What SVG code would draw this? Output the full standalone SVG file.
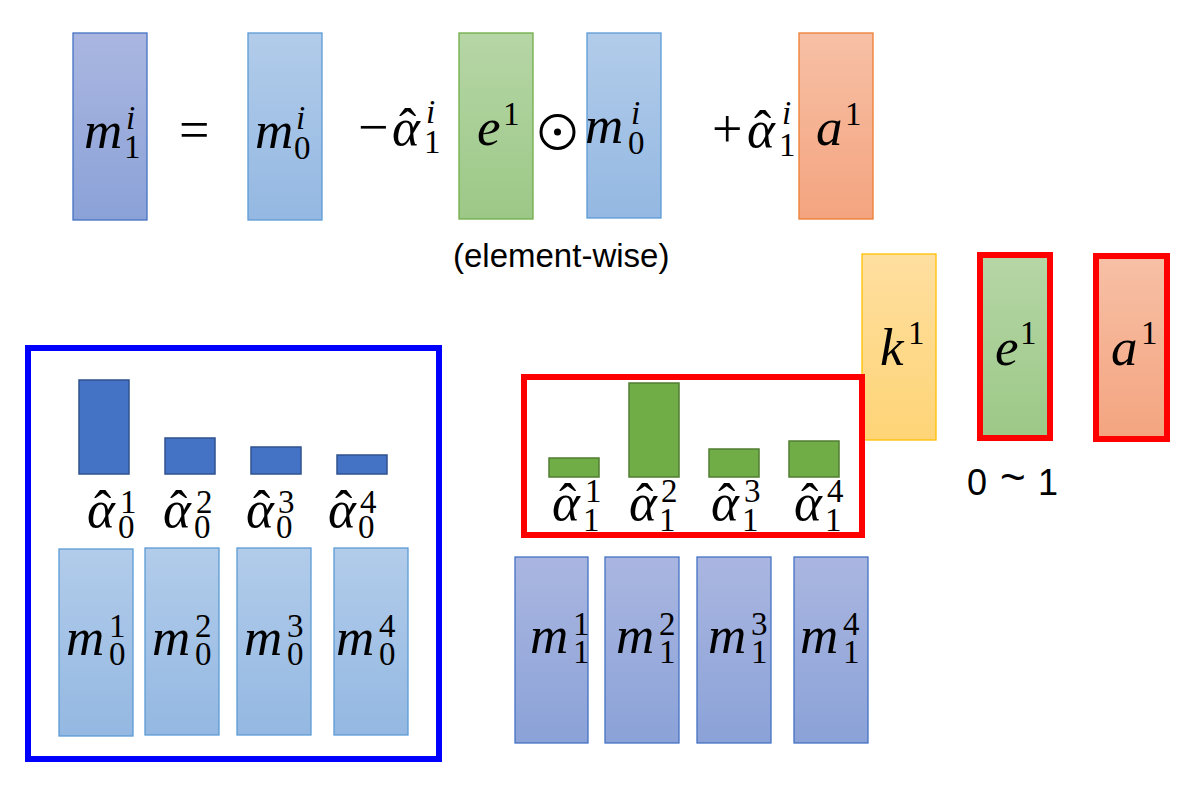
<svg xmlns="http://www.w3.org/2000/svg" width="1187" height="788" viewBox="0 0 1187 788">
<defs>
<linearGradient id="gPurple" x1="0" y1="0" x2="0" y2="1"><stop offset="0" stop-color="#AAB6E0"/><stop offset="1" stop-color="#8BA2D8"/></linearGradient>
<linearGradient id="gBlue" x1="0" y1="0" x2="0" y2="1"><stop offset="0" stop-color="#B2CCEA"/><stop offset="1" stop-color="#94B8E2"/></linearGradient>
<linearGradient id="gGreen" x1="0" y1="0" x2="0" y2="1"><stop offset="0" stop-color="#B6D6A6"/><stop offset="1" stop-color="#9CC887"/></linearGradient>
<linearGradient id="gOrange" x1="0" y1="0" x2="0" y2="1"><stop offset="0" stop-color="#F7C0A6"/><stop offset="1" stop-color="#F4A47F"/></linearGradient>
<linearGradient id="gYellow" x1="0" y1="0" x2="0" y2="1"><stop offset="0" stop-color="#FFDFA0"/><stop offset="1" stop-color="#FED476"/></linearGradient>
</defs>
<style>
.m1{fill:url(#gPurple);stroke:#4472C4;stroke-width:1.3}
.m0{fill:url(#gBlue);stroke:#5B9BD5;stroke-width:1.3}
.gr{fill:url(#gGreen);stroke:#70AD47;stroke-width:1.3}
.or{fill:url(#gOrange);stroke:#ED7D31;stroke-width:1.3}
.ye{fill:url(#gYellow);stroke:#FFC000;stroke-width:1.3}
.redb{fill:none;stroke:#FF0000;stroke-width:6}
.blueb{fill:none;stroke:#0000FF;stroke-width:6}
.bb{fill:#4472C4;stroke:#2F528F;stroke-width:1.5}
.gb{fill:#70AD47;stroke:#507E32;stroke-width:1.5}
.v{font-family:"Liberation Serif","DejaVu Serif",serif;font-style:italic;font-size:53px;fill:#000}
.s{font-style:normal;font-size:33px}
.si{font-style:italic;font-size:33px}
.op{font-style:normal;font-size:54px}
.hat{font-style:normal;font-size:52px}
.sans{font-family:"Liberation Sans","Open Sans",sans-serif;fill:#000}
</style>

<g id="formula">
  <g id="f-m1"><rect class="m1" x="73" y="33" width="74" height="187"/>
    <text class="v"><tspan x="84" y="148">m</tspan><tspan class="si" x="126" y="129">i</tspan><tspan class="s" x="124" y="158">1</tspan></text></g>
  <text id="f-eq" class="v"><tspan class="op" x="179" y="148">=</tspan></text>
  <g id="f-m0"><rect class="m0" x="248" y="33" width="74" height="187"/>
    <text class="v"><tspan x="255" y="148">m</tspan><tspan class="si" x="296" y="129">i</tspan><tspan class="s" x="294" y="159">0</tspan></text></g>
  <g id="f-minus"><text class="v"><tspan class="op" x="358" y="145">−</tspan><tspan x="392" y="145">α</tspan><tspan class="hat" x="399" y="145">ˆ</tspan><tspan class="si" x="426" y="123">i</tspan><tspan class="s" x="424" y="153">1</tspan></text></g>
  <g id="f-e"><rect class="gr" x="459" y="33" width="74" height="186"/>
    <text class="v"><tspan x="477" y="145">e</tspan><tspan class="s" x="503" y="125">1</tspan></text></g>
  <g id="f-odot"><circle cx="557.5" cy="132" r="16.5" fill="none" stroke="#000" stroke-width="3"/><circle cx="557.5" cy="132" r="3.5" fill="#000"/></g>
  <g id="f-m0b"><rect class="m0" x="587" y="33" width="74" height="185"/>
    <text class="v"><tspan x="585" y="143">m</tspan><tspan class="si" x="631" y="124">i</tspan><tspan class="s" x="628" y="154">0</tspan></text></g>
  <g id="f-plus"><text class="v"><tspan class="op" x="712" y="147">+</tspan><tspan x="747" y="147">α</tspan><tspan class="hat" x="754" y="147">ˆ</tspan><tspan class="si" x="782" y="124">i</tspan><tspan class="s" x="779" y="156">1</tspan></text></g>
  <g id="f-a"><rect class="or" x="799" y="33" width="74" height="186"/>
    <text class="v"><tspan x="816" y="145">a</tspan><tspan class="s" x="845" y="125">1</tspan></text></g>
  <text id="f-note" class="sans" x="453" y="267" font-size="33">(element-wise)</text>
</g>

<g id="right">
  <g id="k1"><rect class="ye" x="862" y="254" width="74" height="186"/>
    <text class="v"><tspan x="880" y="365">k</tspan><tspan class="s" x="908" y="344">1</tspan></text></g>
  <g id="e1"><rect class="gr" x="980" y="255" width="70" height="183" stroke="none"/><rect class="redb" x="980" y="255" width="70" height="183"/>
    <text class="v"><tspan x="995" y="365">e</tspan><tspan class="s" x="1020" y="344">1</tspan></text></g>
  <g id="a1"><rect class="or" x="1096" y="256" width="71" height="183" stroke="none"/><rect class="redb" x="1096" y="256" width="71" height="183"/>
    <text class="v"><tspan x="1111" y="365">a</tspan><tspan class="s" x="1141" y="344">1</tspan></text></g>
  <text id="range" class="sans" font-size="36" y="495"><tspan x="967">0</tspan><tspan x="1000" font-size="44" dy="-3">~</tspan><tspan x="1038" dy="3">1</tspan></text>
</g>

<g id="prev">
  <rect class="blueb" x="28" y="348" width="411" height="411"/>
  <rect class="bb" x="79" y="380" width="50" height="94"/>
  <rect class="bb" x="165" y="438" width="50" height="36"/>
  <rect class="bb" x="251" y="447" width="50" height="27"/>
  <rect class="bb" x="337" y="455" width="50" height="19"/>
  <text class="v"><tspan x="87" y="527">α</tspan><tspan class="hat" x="94" y="527">ˆ</tspan><tspan class="s" x="120" y="513">1</tspan><tspan class="s" x="118" y="538">0</tspan></text>
  <text class="v"><tspan x="163" y="527">α</tspan><tspan class="hat" x="170" y="527">ˆ</tspan><tspan class="s" x="196" y="513">2</tspan><tspan class="s" x="194" y="538">0</tspan></text>
  <text class="v"><tspan x="246" y="527">α</tspan><tspan class="hat" x="253" y="527">ˆ</tspan><tspan class="s" x="278" y="513">3</tspan><tspan class="s" x="276" y="538">0</tspan></text>
  <text class="v"><tspan x="328" y="527">α</tspan><tspan class="hat" x="335" y="527">ˆ</tspan><tspan class="s" x="360" y="513">4</tspan><tspan class="s" x="358" y="538">0</tspan></text>
  <rect class="m0" x="59" y="549" width="74" height="187"/>
  <rect class="m0" x="145" y="548" width="74" height="187"/>
  <rect class="m0" x="237" y="548" width="74" height="187"/>
  <rect class="m0" x="334" y="548" width="74" height="187"/>
  <text class="v"><tspan x="66" y="655">m</tspan><tspan class="s" x="109" y="637">1</tspan><tspan class="s" x="109" y="665">0</tspan></text>
  <text class="v"><tspan x="152" y="655">m</tspan><tspan class="s" x="195" y="637">2</tspan><tspan class="s" x="195" y="665">0</tspan></text>
  <text class="v"><tspan x="244" y="655">m</tspan><tspan class="s" x="287" y="637">3</tspan><tspan class="s" x="287" y="665">0</tspan></text>
  <text class="v"><tspan x="336" y="655">m</tspan><tspan class="s" x="379" y="637">4</tspan><tspan class="s" x="379" y="665">0</tspan></text>
</g>

<g id="next">
  <rect class="redb" x="524" y="377" width="338" height="158"/>
  <rect class="gb" x="549" y="458" width="50" height="19"/>
  <rect class="gb" x="629" y="383" width="50" height="94"/>
  <rect class="gb" x="709" y="449" width="50" height="28"/>
  <rect class="gb" x="789" y="441" width="50" height="36"/>
  <text class="v"><tspan x="552" y="520">α</tspan><tspan class="hat" x="559" y="520">ˆ</tspan><tspan class="s" x="585" y="502">1</tspan><tspan class="s" x="583" y="531">1</tspan></text>
  <text class="v"><tspan x="629" y="520">α</tspan><tspan class="hat" x="636" y="520">ˆ</tspan><tspan class="s" x="661" y="502">2</tspan><tspan class="s" x="659" y="531">1</tspan></text>
  <text class="v"><tspan x="711" y="520">α</tspan><tspan class="hat" x="718" y="520">ˆ</tspan><tspan class="s" x="744" y="502">3</tspan><tspan class="s" x="742" y="531">1</tspan></text>
  <text class="v"><tspan x="794" y="520">α</tspan><tspan class="hat" x="801" y="520">ˆ</tspan><tspan class="s" x="827" y="502">4</tspan><tspan class="s" x="825" y="531">1</tspan></text>
  <rect class="m1" x="515" y="557" width="73" height="186"/>
  <rect class="m1" x="605" y="557" width="74" height="186"/>
  <rect class="m1" x="697" y="557" width="74" height="186"/>
  <rect class="m1" x="794" y="557" width="74" height="186"/>
  <text class="v"><tspan x="530" y="653">m</tspan><tspan class="s" x="573" y="635">1</tspan><tspan class="s" x="573" y="663">1</tspan></text>
  <text class="v"><tspan x="616" y="653">m</tspan><tspan class="s" x="659" y="635">2</tspan><tspan class="s" x="659" y="663">1</tspan></text>
  <text class="v"><tspan x="708" y="653">m</tspan><tspan class="s" x="751" y="635">3</tspan><tspan class="s" x="751" y="663">1</tspan></text>
  <text class="v"><tspan x="800" y="653">m</tspan><tspan class="s" x="843" y="635">4</tspan><tspan class="s" x="843" y="663">1</tspan></text>
</g>
</svg>
